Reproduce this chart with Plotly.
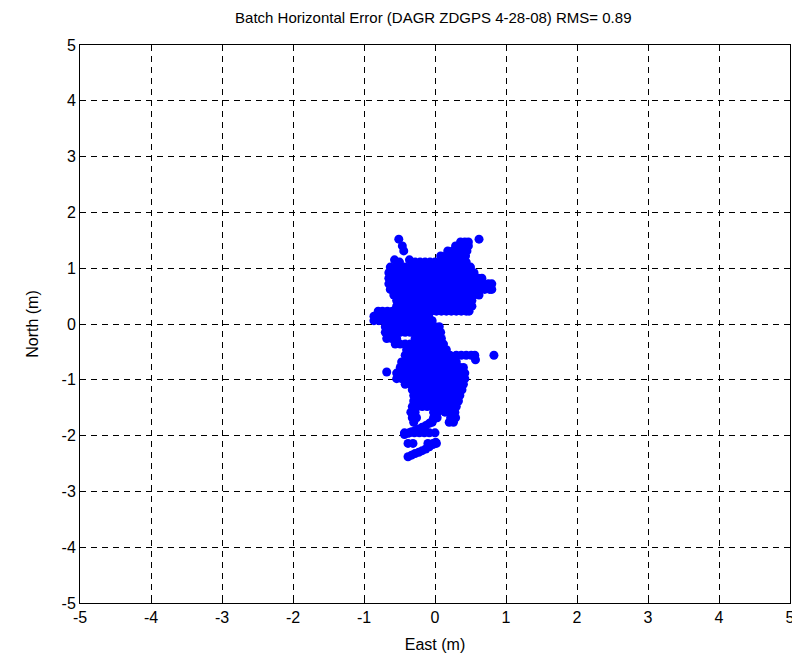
import plotly.graph_objects as go

# ---- data (East / North error in metres) ----
north_rows = [1.52, 1.47, 1.40, 1.31, 1.22, 1.15, 1.11, 1.02, 0.92, 0.82, 0.72, 0.62,
              0.52, 0.42, 0.32, 0.23, 0.14, 0.06, -0.05, -0.15, -0.26, -0.36, -0.46,
              -0.56, -0.64, -0.68, -0.78, -0.86, -0.88, -0.98, -1.08, -1.18, -1.28,
              -1.38, -1.48, -1.58, -1.68, -1.76, -1.95, -2.14]
east_rows = [
    [-0.51, 0.62],
    [0.36, 0.42, 0.47],
    [-0.46, 0.29, 0.35, 0.41, 0.47],
    [-0.44, 0.18, 0.25, 0.32, 0.39, 0.45],
    [0.08, 0.15, 0.22, 0.29, 0.36, 0.43],
    [-0.57, -0.36],
    [-0.50, -0.28, -0.21, -0.14, -0.07, 0.00, 0.07, 0.14, 0.21, 0.28, 0.35, 0.44],
    [-0.63, -0.56, -0.49, -0.42, -0.35, -0.28, -0.21, -0.14, -0.07, 0.00, 0.07, 0.14, 0.21, 0.28, 0.35, 0.42, 0.50],
    [-0.65, -0.58, -0.51, -0.44, -0.37, -0.30, -0.23, -0.16, -0.09, -0.02, 0.05, 0.12, 0.19, 0.26, 0.33, 0.40, 0.47, 0.55],
    [-0.65, -0.58, -0.51, -0.44, -0.37, -0.30, -0.23, -0.16, -0.09, -0.02, 0.05, 0.12, 0.19, 0.26, 0.33, 0.40, 0.47, 0.54, 0.61, 0.66],
    [-0.65, -0.58, -0.51, -0.44, -0.37, -0.30, -0.23, -0.16, -0.09, -0.02, 0.05, 0.12, 0.19, 0.26, 0.33, 0.40, 0.47, 0.54, 0.61, 0.68, 0.75, 0.80],
    [-0.63, -0.56, -0.49, -0.42, -0.35, -0.28, -0.21, -0.14, -0.07, 0.00, 0.07, 0.14, 0.21, 0.28, 0.35, 0.42, 0.49, 0.56, 0.63, 0.70, 0.77, 0.80],
    [-0.58, -0.51, -0.44, -0.37, -0.30, -0.23, -0.16, -0.09, -0.02, 0.05, 0.12, 0.19, 0.26, 0.33, 0.40, 0.47, 0.54, 0.62],
    [-0.54, -0.47, -0.40, -0.33, -0.26, -0.19, -0.12, -0.05, 0.02, 0.09, 0.16, 0.23, 0.30, 0.37, 0.44, 0.52],
    [-0.54, -0.47, -0.40, -0.33, -0.26, -0.19, -0.12, -0.05, 0.02, 0.09, 0.16, 0.23, 0.30, 0.37, 0.44, 0.52],
    [-0.80, -0.74, -0.67, -0.60, -0.54, -0.47, -0.40, -0.33, -0.26, -0.19, -0.12, -0.05, 0.02, 0.09, 0.16, 0.23, 0.30, 0.37, 0.44, 0.48],
    [-0.86, -0.79, -0.72, -0.65, -0.58, -0.51, -0.44, -0.37, -0.30, -0.23, -0.16, -0.09],
    [-0.86, -0.79, -0.72, -0.65, -0.58, -0.51, -0.44, -0.37, -0.30, -0.23, -0.16, -0.09, -0.04],
    [-0.70, -0.63, -0.56, -0.49, -0.42, -0.35, -0.28, -0.21, -0.14, -0.07, 0.00, 0.06],
    [-0.70, -0.63, -0.56, -0.49, -0.42, -0.35, -0.28, -0.21, -0.14, -0.07, 0.00, 0.08],
    [-0.68, -0.61, -0.54, -0.28, -0.21, -0.14, -0.07, 0.00, 0.09],
    [-0.56, -0.49, -0.42, -0.35, -0.28, -0.21, -0.14, -0.07, 0.00, 0.07, 0.12],
    [-0.40, -0.33, -0.26, -0.19, -0.12, -0.05, 0.02, 0.09, 0.16],
    [-0.42, -0.35, -0.28, -0.21, -0.14, -0.07, 0.00, 0.07, 0.14, 0.21, 0.30, 0.37, 0.44, 0.51, 0.56, 0.83],
    [0.24, 0.57],
    [-0.47, -0.40, -0.33, -0.26, -0.19, -0.12, -0.05, 0.02, 0.09, 0.16, 0.23, 0.30],
    [-0.49, -0.42, -0.35, -0.28, -0.21, -0.14, -0.07, 0.00, 0.07, 0.14, 0.21, 0.28, 0.35, 0.40],
    [-0.68],
    [-0.54, -0.47, -0.40, -0.33, -0.26, -0.19, -0.12, -0.05, 0.02, 0.09, 0.16, 0.23, 0.30, 0.37, 0.42],
    [-0.54, -0.47, -0.40, -0.33, -0.26, -0.19, -0.12, -0.05, 0.02, 0.09, 0.16, 0.23, 0.30, 0.37, 0.42],
    [-0.42, -0.35, -0.28, -0.21, -0.14, -0.07, 0.00, 0.07, 0.14, 0.21, 0.28, 0.35, 0.40],
    [-0.32, -0.25, -0.18, -0.11, -0.04, 0.03, 0.10, 0.17, 0.24, 0.31, 0.38],
    [-0.30, -0.23, -0.16, -0.09, -0.02, 0.05, 0.12, 0.19, 0.26, 0.33, 0.35],
    [-0.30, -0.23, -0.16, -0.09, -0.02, 0.05, 0.12, 0.19, 0.26, 0.33],
    [-0.32, -0.25, -0.18, -0.11, -0.04, 0.03, 0.10, 0.17, 0.24, 0.30],
    [-0.34, -0.28, -0.02, 0.04, 0.14, 0.22, 0.28],
    [-0.32, -0.26, -0.02, 0.03, 0.22, 0.29],
    [-0.30, -0.04, 0.20, 0.26],
    [-0.43, -0.36, -0.29, -0.22, -0.15, -0.08, 0.00],
    [-0.38, -0.31, -0.10, -0.03, 0.02],
]
# two diagonal streaks at the bottom of the cloud
streak_east = [-0.43, -0.38, -0.33, -0.28, -0.23, -0.18, -0.13, -0.08, -0.04,
               -0.38, -0.33, -0.28, -0.23, -0.18, -0.13, -0.08, -0.03, 0.01]
streak_north = [-1.98, -1.96, -1.93, -1.91, -1.88, -1.85, -1.82, -1.78, -1.74,
                -2.38, -2.35, -2.32, -2.30, -2.27, -2.24, -2.20, -2.16, -2.12]

tick_vals = [-5, -4, -3, -2, -1, 0, 1, 2, 3, 4, 5]
title_text = "Batch Horizontal Error (DAGR ZDGPS 4-28-08) RMS= 0.89"

east = []
north = []
for n, row in zip(north_rows, east_rows):
    for e in row:
        east.append(e)
        north.append(n)
east += streak_east
north += streak_north

FONT = "Liberation Sans, Arial, sans-serif"

fig = go.Figure(go.Scatter(
    x=east, y=north, mode="markers",
    marker=dict(color="#0000FF", size=9, line=dict(width=0)),
    hoverinfo="skip", showlegend=False,
))

axis_common = dict(
    range=[-5, 5], tickmode="array", tickvals=tick_vals,
    ticktext=[str(v) for v in tick_vals],
    showline=True, linecolor="black", linewidth=1, mirror="ticks",
    ticks="inside", ticklen=5, tickcolor="black",
    showgrid=True, gridcolor="black", gridwidth=1, griddash="6px,5px",
    zeroline=False, tickfont=dict(family=FONT, size=16, color="black"),
)

# page has an 8px body margin, so the figure is sized/offset for that
fig.update_layout(
    width=792, height=652,
    paper_bgcolor="white", plot_bgcolor="white",
    margin=dict(l=72, r=10, t=37, b=57, autoexpand=False),
    font=dict(family=FONT, size=16, color="black"),
    title=dict(text=title_text, x=0.537, xanchor="center", y=0.985, yanchor="middle",
               yref="container", font=dict(family=FONT, size=15, color="black")),
    xaxis=dict(axis_common, title=dict(text="East (m)", standoff=13,
                                       font=dict(family=FONT, size=16))),
    yaxis=dict(axis_common, title=dict(text="North (m)", standoff=18,
                                       font=dict(family=FONT, size=16))),
)

fig.write_html("out.html")
